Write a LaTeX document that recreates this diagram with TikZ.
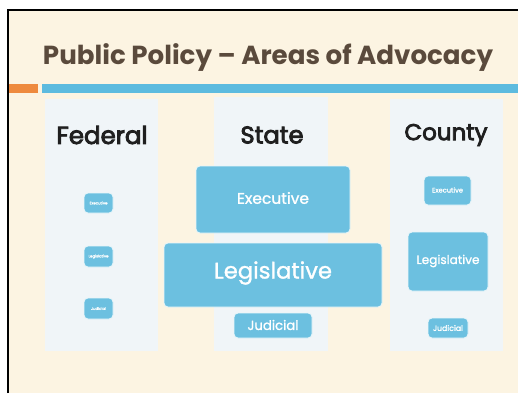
\documentclass[tikz,border=0pt]{standalone}
\usepackage{fontspec}
\setmainfont{Poppins}
\newfontfamily\medfont[FakeBold=1.2]{Poppins}
\newfontfamily\semifont[FakeBold=3.5]{Poppins}
\usepackage{graphicx}
\definecolor{cream}{HTML}{FCF4E2}
\definecolor{panel}{HTML}{F0F5F8}
\definecolor{barblue}{HTML}{5DBBDF}
\definecolor{barorange}{HTML}{EE8A3E}
\definecolor{boxblue}{HTML}{6CC0E0}
\definecolor{titlebrown}{HTML}{5A4A3C}
\newcommand{\fitw}[2]{\resizebox{#1}{!}{#2}}
\tikzset{
  panelbox/.style={fill=panel, draw=none},
  bluebox/.style={fill=boxblue, draw=white!85!boxblue, line width=0.8pt, rounded corners=4pt},
  boxtext/.style={text=white, inner sep=0pt, font=\medfont},
  header/.style={text=black!88, inner sep=0pt, font=\semifont},
}
\begin{document}
\begin{tikzpicture}[x=1pt,y=-1pt]
\useasboundingbox (0,0) rectangle (518,393);
\fill[white] (0,0) rectangle (518,393);
\fill[cream] (8,10) rectangle (518,393);
\draw[black, line width=2pt] (8,393) -- (8,10) -- (518,10);
% title
\node[text=titlebrown, inner sep=0pt] (title) at (268,58) {\fitw{450pt}{\bfseries Public Policy -- Areas of Advocacy}};
% bars
\fill[barorange] (9,84) rectangle (38,93);
\fill[barblue] (42,84) rectangle (518,93);
% panels
\fill[panelbox] (45,99) rectangle (158,351);
\fill[panelbox] (214,97) rectangle (328,351);
\fill[panelbox] (390,99) rectangle (503,351);
% headers
\node[header] (fed) at (102,135) {\fitw{91pt}{Federal}};
\node[header] (state) at (272,135) {\fitw{63pt}{State}};
\node[header] (county) at (446,135) {\fitw{83pt}{County}};
% federal boxes
\draw[bluebox] (84,193) rectangle (113,213);
\node[boxtext] (fexe) at (98.5,203) {\fitw{18pt}{Executive}};
\draw[bluebox] (84,246) rectangle (113,267);
\node[boxtext] (fleg) at (98.5,256.5) {\fitw{20pt}{Legislative}};
\draw[bluebox] (84,298) rectangle (113,319);
\node[boxtext] (fjud) at (98.5,308.5) {\fitw{15pt}{Judicial}};
% state boxes
\draw[bluebox] (196,166) rectangle (350,233);
\node[boxtext] (sexe) at (273,198) {\fitw{72pt}{Executive}};
\draw[bluebox] (164,243) rectangle (382,307);
\node[boxtext] (sleg) at (273,273) {\fitw{118pt}{Legislative}};
\draw[bluebox] (234,313) rectangle (312,338);
\node[boxtext] (sjud) at (273,325) {\fitw{51pt}{Judicial}};
% county boxes
\draw[bluebox] (424,176) rectangle (471,205);
\node[boxtext] (cexe) at (447.5,190) {\fitw{31pt}{Executive}};
\draw[bluebox] (408,232) rectangle (488,291);
\node[boxtext] (cleg) at (448,261) {\fitw{63pt}{Legislative}};
\draw[bluebox] (428,318) rectangle (468,338);
\node[boxtext] (cjud) at (448,328) {\fitw{30pt}{Judicial}};
\end{tikzpicture}
\end{document}
